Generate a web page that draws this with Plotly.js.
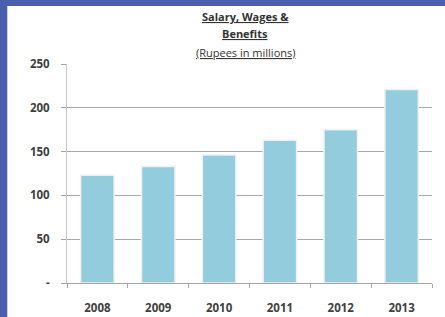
<!DOCTYPE html>
<html>
<head>
<meta charset="utf-8">
<script src="https://cdn.plot.ly/plotly-3.0.1.min.js"></script>
<style>html,body{margin:0;padding:0;background:#4a5fae;}#chart{width:445px;height:317px;}</style>
</head>
<body>
<div id="chart"></div>
<script>
var years = ["2008", "2009", "2010", "2011", "2012", "2013"];
var salaries = [123, 133, 146, 163, 175, 221];
var yTickVals = [0, 50, 100, 150, 200, 250];
var yTickText = ["-", "50", "100", "150", "200", "250"];
var titleLines = ["Salary, Wages &", "Benefits", "(Rupees in millions)"];

var font = "Open Sans, Lato, Liberation Sans, sans-serif";
var trace = {
  type: "bar",
  x: years,
  y: salaries,
  marker: {color: "#93cddd", line: {color: "#f0f0f0", width: 1.5}},
  hoverinfo: "none"
};

var W = 445, H = 317, ml = 67, mr = 13, mt = 64, mb = 34;
var pw = W - ml - mr, ph = H - mt - mb;
function px(x){ return (x - ml) / pw; }
function py(y){ return (H - mb - y) / ph; }

var layout = {
  width: W, height: H,
  margin: {l: ml, r: mr, t: mt, b: mb, pad: 0},
  paper_bgcolor: "#4a5fae",
  plot_bgcolor: "rgba(0,0,0,0)",
  showlegend: false,
  bargap: 0.45,
  xaxis: {
    type: "category",
    tickson: "boundaries",
    ticks: "outside", ticklen: 4, tickcolor: "#a6a6a6",
    showline: true, linecolor: "#a6a6a6", linewidth: 1,
    showgrid: false,
    tickfont: {family: font, size: 11.5, color: "#404040", weight: "bold"},
    ticklabelstandoff: 14,
    fixedrange: true
  },
  yaxis: {
    range: [0, 250],
    tickvals: yTickVals, ticktext: yTickText,
    ticks: "outside", ticklen: 5, tickcolor: "#a6a6a6",
    showline: true, linecolor: "#c8c8c8", linewidth: 1,
    showgrid: true, gridcolor: "#a8a8a8", gridwidth: 1,
    zeroline: false,
    tickfont: {family: font, size: 11.5, color: "#404040", weight: "bold"},
    ticklabelstandoff: 9,
    fixedrange: true
  },
  shapes: [{
    type: "rect", xref: "paper", yref: "paper", layer: "below",
    x0: px(7.3), x1: px(450), y0: py(320), y1: py(6),
    fillcolor: "#ffffff", line: {width: 0}
  }],
  annotations: [
    {text: "<b><span style='text-decoration:underline'>" + titleLines[0] + "</span></b>", x: px(245), y: py(17), xref: "paper", yref: "paper", yanchor: "middle", xanchor: "center", showarrow: false, font: {family: font, size: 11, color: "#333333"}},
    {text: "<b><span style='text-decoration:underline'>" + titleLines[1] + "</span></b>", x: px(245), y: py(34), xref: "paper", yref: "paper", yanchor: "middle", xanchor: "center", showarrow: false, font: {family: font, size: 11, color: "#333333"}},
    {text: "<span style='text-decoration:underline'>" + titleLines[2] + "</span>", x: px(245), y: py(52), xref: "paper", yref: "paper", yanchor: "middle", xanchor: "center", showarrow: false, font: {family: font, size: 11, color: "#333333"}}
  ]
};

Plotly.newPlot("chart", [trace], layout, {displayModeBar: false, staticPlot: true});
</script>
</body>
</html>
